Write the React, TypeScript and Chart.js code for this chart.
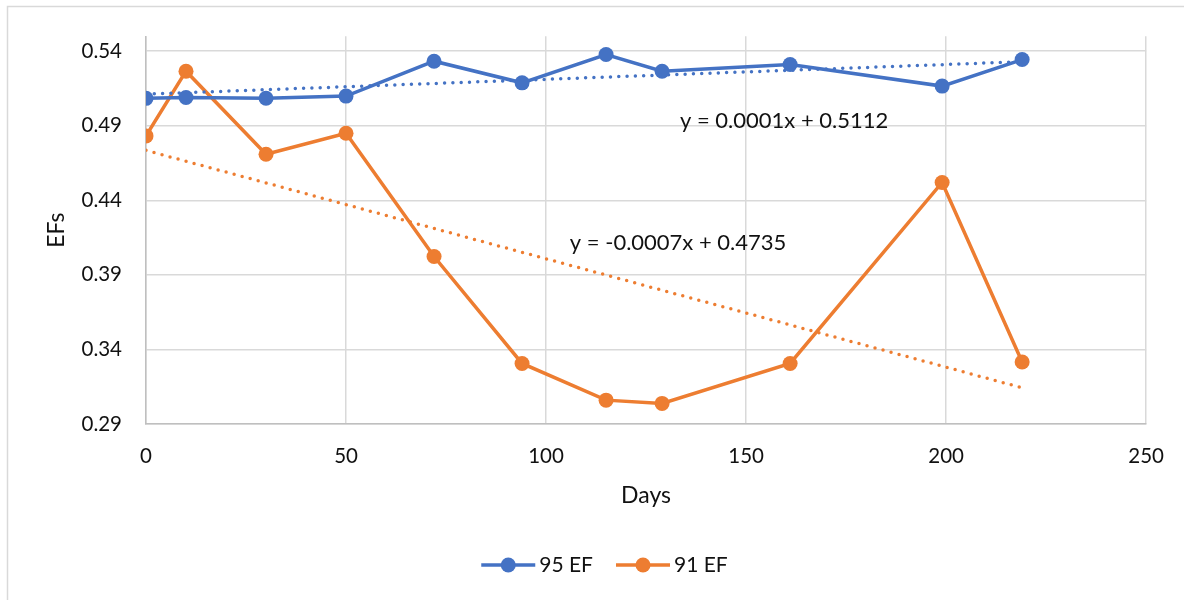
import { useEffect, useRef } from "react";
import { Chart, registerables } from "chart.js";

Chart.register(...registerables);

// Measurement days and ejection-fraction readings for the two series
const DAYS = [0, 10, 30, 50, 72, 94, 115, 129, 161, 199, 219];
const EF_95 = [0.5084, 0.509, 0.5085, 0.5099, 0.5333, 0.5188, 0.5378, 0.5266, 0.5311, 0.5166, 0.5344];
const EF_91 = [0.4832, 0.5266, 0.4709, 0.485, 0.4023, 0.3306, 0.306, 0.3038, 0.3306, 0.452, 0.3316];

const SERIES_LABELS = ["95 EF", "91 EF"];
const SERIES_COLORS = ["#4472C4", "#ED7D31"];

// Linear trend coefficients (slope, intercept) per series
const TREND_SLOPES = [0.0000995, -0.000727];
const TREND_INTERCEPTS = [0.5112, 0.4735];

const X_TICKS = [0, 50, 100, 150, 200, 250];
const Y_TICKS = [0.29, 0.34, 0.39, 0.44, 0.49, 0.54];

// Where each trend equation is centred, in data units
const EQUATION_ANCHORS = [
  { x: 159.5, y: 0.4932 },
  { x: 133, y: 0.4117 },
];

const FONT = "Lato, 'Open Sans', sans-serif";
const TEXT_COLOR = "#111111";
const GRID_COLOR = "#D9D9D9";

function equationText(slope: number, intercept: number): string {
  const sign = intercept < 0 ? "-" : "+";
  return `y = ${slope.toFixed(4)}x ${sign} ${Math.abs(intercept).toFixed(4)}`;
}

function trendPoints(slope: number, intercept: number) {
  const x0 = DAYS[0];
  const x1 = DAYS[DAYS.length - 1];
  return [
    { x: x0, y: slope * x0 + intercept },
    { x: x1, y: slope * x1 + intercept },
  ];
}

const decorPlugin = {
  id: "decor",
  beforeDraw(chart: any) {
    const ctx = chart.ctx;
    ctx.save();
    ctx.fillStyle = "#ffffff";
    ctx.fillRect(0, 0, chart.width, chart.height);
    ctx.strokeStyle = GRID_COLOR;
    ctx.lineWidth = 1.5;
    ctx.beginPath();
    ctx.moveTo(7.5, chart.height);
    ctx.lineTo(7.5, 6.5);
    ctx.lineTo(chart.width, 6.5);
    ctx.stroke();
    ctx.restore();
  },
  afterDatasetsDraw(chart: any) {
    const ctx = chart.ctx;
    const xs = chart.scales.x;
    const ys = chart.scales.y;
    ctx.save();
    ctx.font = `22px ${FONT}`;
    ctx.fillStyle = TEXT_COLOR;
    ctx.textAlign = "center";
    ctx.textBaseline = "middle";
    TREND_SLOPES.forEach((slope, i) => {
      const a = EQUATION_ANCHORS[i];
      ctx.fillText(
        equationText(slope, TREND_INTERCEPTS[i]),
        xs.getPixelForValue(a.x),
        ys.getPixelForValue(a.y)
      );
    });
    ctx.restore();
  },
  afterDraw(chart: any) {
    // Legend: line-with-marker swatch followed by the series name
    const ctx = chart.ctx;
    const lineLen = 54;
    const gapText = 4;
    const gapItem = 23;
    const cy = 565;
    const centerX = 604.5;
    ctx.save();
    ctx.font = `21px ${FONT}`;
    const widths = SERIES_LABELS.map((l) => lineLen + gapText + ctx.measureText(l).width);
    const total = widths.reduce((a, b) => a + b, 0) + gapItem * (widths.length - 1);
    let x = centerX - total / 2;
    SERIES_LABELS.forEach((label, i) => {
      const color = SERIES_COLORS[i];
      ctx.strokeStyle = color;
      ctx.lineWidth = 3.5;
      ctx.beginPath();
      ctx.moveTo(x, cy);
      ctx.lineTo(x + lineLen, cy);
      ctx.stroke();
      ctx.fillStyle = color;
      ctx.beginPath();
      ctx.arc(x + lineLen / 2, cy, 7.5, 0, Math.PI * 2);
      ctx.fill();
      ctx.fillStyle = TEXT_COLOR;
      ctx.textAlign = "left";
      ctx.textBaseline = "middle";
      ctx.fillText(label, x + lineLen + gapText, cy);
      x += widths[i] + gapItem;
    });
    ctx.restore();
  },
};

export default function App() {
  const canvasRef = useRef<HTMLCanvasElement | null>(null);

  useEffect(() => {
    const canvas = canvasRef.current;
    if (!canvas) return;

    const series = [EF_95, EF_91].map((values, i) => ({
      type: "line" as const,
      label: SERIES_LABELS[i],
      data: DAYS.map((d, k) => ({ x: d, y: values[k] })),
      borderColor: SERIES_COLORS[i],
      backgroundColor: SERIES_COLORS[i],
      borderWidth: 3.5,
      pointRadius: 7.5,
      pointBorderWidth: 0,
      pointHoverRadius: 7.5,
      tension: 0,
      order: 2,
    }));

    const trends = TREND_SLOPES.map((slope, i) => ({
      type: "line" as const,
      label: `${SERIES_LABELS[i]} trend`,
      data: trendPoints(slope, TREND_INTERCEPTS[i]),
      borderColor: SERIES_COLORS[i],
      borderWidth: 3.5,
      borderDash: [0, 8.3],
      borderCapStyle: "round" as const,
      pointRadius: 0,
      tension: 0,
      order: 1,
    }));

    const chart = new Chart(canvas, {
      type: "line",
      data: { datasets: [...series, ...trends] },
      plugins: [decorPlugin],
      options: {
        animation: false,
        responsive: false,
        events: [],
        layout: { padding: { left: 0, right: 37, top: 35, bottom: 0 } },
        plugins: {
          legend: { display: false },
          tooltip: { enabled: false },
        },
        scales: {
          x: {
            type: "linear",
            min: 0,
            max: 250,
            afterBuildTicks: (scale: any) => {
              scale.ticks = X_TICKS.map((v) => ({ value: v }));
            },
            afterFit: (scale: any) => {
              scale.height = 176;
            },
            grid: { color: GRID_COLOR, lineWidth: 1.5, drawTicks: false },
            border: { color: "#BFBFBF", width: 1.5 },
            ticks: {
              padding: 20,
              color: TEXT_COLOR,
              font: { family: FONT, size: 20.5 },
              callback: (v: any) => String(v),
            },
            title: {
              display: true,
              text: "Days",
              color: TEXT_COLOR,
              font: { family: FONT, size: 23 },
              padding: { top: 0, bottom: 91 },
            },
          },
          y: {
            type: "linear",
            min: 0.29,
            max: 0.55,
            afterBuildTicks: (scale: any) => {
              scale.ticks = Y_TICKS.map((v) => ({ value: v }));
            },
            afterFit: (scale: any) => {
              scale.width = 146;
            },
            grid: { color: GRID_COLOR, lineWidth: 1.5, drawTicks: false },
            border: { color: "#BFBFBF", width: 1.5 },
            ticks: {
              padding: 24,
              color: TEXT_COLOR,
              font: { family: FONT, size: 20.5 },
              callback: (v: any) => Number(v).toFixed(2),
            },
            title: {
              display: true,
              text: "EFs",
              color: TEXT_COLOR,
              font: { family: FONT, size: 23 },
              padding: { top: 43, bottom: 0 },
            },
          },
        },
      },
    });

    return () => chart.destroy();
  }, []);

  return (
    <div style={{ position: "absolute", left: 0, top: 0, width: 1184, height: 600 }}>
      <canvas ref={canvasRef} width={1184} height={600} style={{ width: 1184, height: 600 }} />
    </div>
  );
}
